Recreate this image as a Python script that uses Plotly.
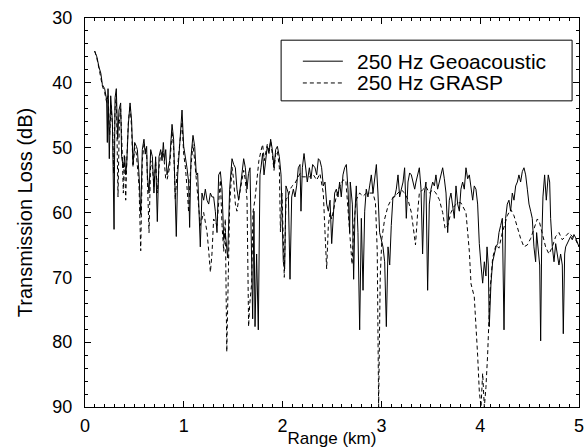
import plotly.graph_objects as go

# Range (km) and transmission loss (dB)
range_geo = [0.098,0.120,0.142,0.160,0.176,0.199,0.219,0.226,0.233,0.246,0.260,0.277,0.294,0.304,0.317,0.331,0.344,0.361,0.371,0.388,0.402,0.412,0.422,0.439,0.456,0.472,0.486,0.503,0.520,0.530,0.547,0.564,0.580,0.597,0.610,0.624,0.631,0.648,0.665,0.682,0.698,0.715,0.732,0.749,0.766,0.780,0.793,0.805,0.817,0.830,0.857,0.881,0.897,0.914,0.924,0.938,0.958,0.982,0.999,1.016,1.032,1.049,1.059,1.073,1.093,1.110,1.127,1.140,1.154,1.167,1.184,1.201,1.218,1.235,1.252,1.269,1.285,1.302,1.319,1.336,1.353,1.370,1.387,1.404,1.420,1.444,1.464,1.488,1.505,1.522,1.538,1.555,1.579,1.606,1.623,1.640,1.655,1.670,1.697,1.710,1.721,1.737,1.754,1.771,1.781,1.798,1.812,1.829,1.845,1.862,1.879,1.896,1.913,1.930,1.947,1.967,1.984,1.994,2.007,2.021,2.034,2.058,2.075,2.092,2.109,2.125,2.142,2.159,2.176,2.186,2.200,2.217,2.237,2.250,2.271,2.287,2.304,2.328,2.345,2.362,2.378,2.395,2.412,2.429,2.446,2.463,2.480,2.497,2.527,2.544,2.561,2.577,2.594,2.611,2.628,2.645,2.662,2.679,2.685,2.706,2.719,2.733,2.746,2.763,2.780,2.797,2.814,2.831,2.847,2.864,2.881,2.898,2.915,2.932,2.949,2.965,2.982,2.999,3.016,3.033,3.050,3.067,3.084,3.100,3.117,3.134,3.151,3.168,3.185,3.202,3.219,3.235,3.252,3.269,3.286,3.303,3.320,3.337,3.350,3.367,3.384,3.401,3.417,3.434,3.451,3.468,3.485,3.502,3.519,3.536,3.552,3.569,3.586,3.603,3.620,3.637,3.654,3.671,3.687,3.704,3.721,3.738,3.755,3.772,3.789,3.805,3.822,3.839,3.856,3.873,3.890,3.907,3.924,3.940,3.957,3.974,3.991,4.008,4.025,4.042,4.058,4.069,4.082,4.092,4.109,4.126,4.143,4.160,4.177,4.190,4.207,4.224,4.241,4.257,4.274,4.291,4.308,4.325,4.342,4.359,4.376,4.392,4.409,4.426,4.443,4.460,4.477,4.494,4.511,4.527,4.544,4.561,4.571,4.588,4.602,4.612,4.622,4.635,4.652,4.669,4.689,4.703,4.713,4.730,4.747,4.764,4.780,4.797,4.814,4.831,4.841,4.855,4.865,4.882,4.898,4.915,4.932,4.949,4.966,4.983,5.000]
tl_geo = [35.1,36.0,37.6,38.5,40.3,40.9,42.6,49.2,40.9,51.7,42.0,45.9,62.6,42.3,40.9,48.7,44.2,43.1,51.4,53.1,51.4,54.2,52.6,46.4,43.1,45.9,52.6,49.2,49.8,50.3,54.2,60.3,50.3,48.7,51.0,49.8,54.2,57.0,50.3,51.4,57.0,51.4,61.4,51.4,50.3,52.0,49.2,52.0,50.3,54.2,52.0,46.4,48.7,57.0,63.7,54.2,48.7,44.2,49.8,51.4,53.1,55.3,62.3,51.4,48.1,49.8,54.2,53.9,59.2,65.3,57.0,58.1,56.4,58.1,58.7,57.0,57.6,57.6,59.8,63.1,54.2,53.7,56.4,64.2,63.1,67.0,56.4,51.7,52.6,53.1,56.4,58.1,55.3,51.7,53.1,56.4,54.0,53.1,76.4,59.8,77.6,66.4,78.1,54.2,53.1,50.9,54.2,51.4,49.8,50.9,48.7,50.3,53.1,50.3,49.8,51.4,54.2,59.8,67.6,68.7,55.9,57.0,70.3,57.6,56.4,57.6,55.9,53.1,52.6,59.8,53.1,50.9,53.1,55.3,53.1,54.8,52.6,53.1,54.2,51.7,52.0,53.1,55.9,55.3,58.7,59.8,58.1,64.8,57.0,56.4,57.6,55.3,57.6,54.2,53.1,52.6,56.4,63.1,55.3,58.7,70.3,59.8,55.9,63.1,78.1,60.9,72.0,59.8,56.4,57.6,55.9,54.2,57.0,54.2,52.6,57.0,63.1,64.2,65.3,67.6,77.6,65.3,68.1,62.0,57.6,57.6,56.4,54.2,57.6,56.4,55.3,53.1,60.9,55.3,53.9,54.2,55.3,56.4,55.3,54.2,53.1,56.4,66.4,57.0,55.3,72.0,58.7,56.4,55.3,55.9,54.2,56.4,55.3,54.2,53.1,54.8,57.0,63.1,58.1,57.0,58.7,60.9,55.9,58.7,59.8,56.4,55.3,56.4,53.1,54.8,54.2,56.4,58.1,55.9,56.4,58.7,64.8,68.1,70.9,67.6,69.8,65.3,68.1,77.6,70.9,67.6,66.4,65.3,64.8,63.1,62.0,60.9,78.1,60.9,58.7,58.1,59.8,57.0,58.1,55.9,55.3,54.2,55.3,53.7,53.1,54.2,56.4,58.7,59.8,60.9,65.3,67.6,63.1,66.4,68.1,79.8,65.3,57.6,54.2,58.1,54.2,55.3,60.9,65.3,67.6,64.8,66.4,68.1,66.4,68.1,78.7,66.4,65.3,64.8,64.2,63.7,64.2,63.4,63.9,64.8,65.3]

range_grasp = [0.098,0.120,0.142,0.160,0.176,0.199,0.219,0.233,0.250,0.263,0.280,0.290,0.304,0.317,0.334,0.348,0.361,0.375,0.388,0.398,0.412,0.425,0.439,0.456,0.472,0.486,0.503,0.520,0.547,0.564,0.580,0.597,0.624,0.648,0.665,0.682,0.698,0.715,0.732,0.749,0.766,0.793,0.817,0.830,0.857,0.881,0.897,0.914,0.931,0.958,0.982,0.999,1.016,1.032,1.049,1.066,1.093,1.110,1.140,1.167,1.201,1.235,1.252,1.269,1.285,1.302,1.336,1.353,1.370,1.387,1.404,1.420,1.435,1.450,1.464,1.488,1.505,1.522,1.538,1.555,1.579,1.606,1.623,1.640,1.656,1.667,1.687,1.700,1.720,1.740,1.760,1.781,1.798,1.815,1.829,1.845,1.862,1.879,1.896,1.913,1.930,1.947,1.967,1.978,1.994,2.007,2.017,2.034,2.058,2.075,2.092,2.125,2.159,2.176,2.200,2.237,2.271,2.304,2.345,2.378,2.412,2.429,2.446,2.463,2.480,2.497,2.520,2.544,2.577,2.611,2.640,2.662,2.685,2.703,2.720,2.746,2.780,2.814,2.847,2.881,2.915,2.940,2.958,2.972,2.988,3.005,3.033,3.067,3.100,3.134,3.168,3.202,3.235,3.269,3.303,3.325,3.345,3.367,3.384,3.417,3.451,3.485,3.519,3.552,3.586,3.620,3.645,3.671,3.704,3.738,3.772,3.805,3.839,3.856,3.873,3.890,3.907,3.940,3.974,3.991,4.008,4.025,4.042,4.058,4.075,4.100,4.126,4.160,4.190,4.224,4.274,4.308,4.342,4.376,4.409,4.443,4.477,4.511,4.544,4.578,4.600,4.628,4.662,4.696,4.730,4.764,4.797,4.831,4.865,4.898,4.932,4.966,5.000]
tl_grasp = [35.1,36.2,37.8,39.0,40.5,41.5,43.0,42.0,48.0,43.5,47.0,54.0,44.0,42.0,57.6,46.0,44.0,50.0,57.0,51.0,58.1,51.0,46.0,43.5,47.0,53.0,50.0,51.0,55.9,65.9,52.0,49.5,51.0,63.1,52.0,53.0,56.0,52.0,57.0,53.0,51.0,50.5,54.8,55.0,53.0,47.5,50.0,58.0,54.0,49.5,46.0,51.0,53.0,56.0,60.0,54.0,49.5,52.0,58.0,62.0,60.0,63.0,65.9,69.2,66.4,61.0,62.0,58.0,55.0,62.0,66.0,61.0,81.5,70.0,59.0,53.0,55.0,58.7,59.8,58.0,56.0,53.5,55.0,58.0,77.6,74.2,70.9,60.0,58.0,55.0,52.0,50.5,49.5,52.0,50.5,49.5,50.5,49.0,51.0,53.5,51.0,50.5,53.0,63.0,57.0,64.0,70.0,58.0,57.5,56.5,56.0,55.5,54.5,54.0,54.5,54.5,54.5,54.0,55.0,54.0,57.0,63.0,68.7,62.0,60.0,61.0,59.0,57.5,56.0,55.0,55.0,60.0,64.0,68.0,62.0,58.0,57.0,57.5,57.0,57.0,57.0,58.5,66.0,90.0,70.0,64.0,61.0,59.0,58.0,57.5,57.0,56.5,57.0,58.0,60.0,63.0,65.0,60.0,57.0,56.5,56.0,57.0,56.5,57.0,58.0,60.0,62.5,62.0,60.0,59.0,58.5,58.5,59.5,60.0,63.0,66.0,71.0,73.0,82.0,87.6,90.0,84.8,90.0,87.0,82.0,72.0,67.0,65.0,65.5,63.1,60.5,59.5,60.5,62.5,64.0,65.3,65.0,64.0,62.6,61.0,61.5,63.1,65.3,66.4,65.3,63.7,63.1,64.2,63.7,63.1,63.7,64.2,65.3]

series_names = ["250 Hz Geoacoustic", "250 Hz GRASP"]
x_ticks = [0, 1, 2, 3, 4, 5]
y_ticks = [30, 40, 50, 60, 70, 80, 90]

FONT = "Liberation Sans, Arial, Helvetica, sans-serif"
DASH = "4px,3px"

fig = go.Figure()
fig.add_trace(go.Scatter(x=range_geo, y=tl_geo, mode="lines", name=series_names[0],
                         line=dict(color="black", width=1), showlegend=False))
fig.add_trace(go.Scatter(x=range_grasp, y=tl_grasp, mode="lines", name=series_names[1],
                         line=dict(color="black", width=1, dash=DASH), showlegend=False))

axis_common = dict(showline=True, linecolor="black", linewidth=1, mirror="allticks",
                   ticks="inside", tickcolor="black", ticklen=6, tickwidth=1,
                   showgrid=False, zeroline=False, ticklabeloverflow="allow",
                   tickfont=dict(family=FONT, size=18, color="black"))

fig.update_xaxes(range=[0, 5], tickvals=x_ticks, ticklabelstandoff=2,
                 minor=dict(dtick=0.1, ticks="inside", ticklen=3, tickcolor="black", showgrid=False),
                 title=dict(text="Range (km)", font=dict(family=FONT, size=17, color="black"), standoff=1),
                 **axis_common)
fig.update_yaxes(range=[90, 30], tickvals=y_ticks, ticklabelstandoff=8,
                 minor=dict(dtick=2, ticks="inside", ticklen=3, tickcolor="black", showgrid=False),
                 title=dict(text="Transmission Loss (dB)", font=dict(family=FONT, size=20, color="black"), standoff=14),
                 **axis_common)

# legend box drawn as a framed panel in the upper right of the plot
box_x0, box_x1, box_y0, box_y1 = 0.397, 0.986, 0.787, 0.943
row_y = [0.889, 0.833]
sample_x0, sample_x1, text_x = 0.441, 0.522, 0.546
shapes = [dict(type="rect", xref="paper", yref="paper", x0=box_x0, x1=box_x1, y0=box_y0, y1=box_y1,
               line=dict(color="black", width=1), fillcolor="white", layer="above")]
annotations = []
for name, ry, dash in zip(series_names, row_y, ["solid", DASH]):
    shapes.append(dict(type="line", xref="paper", yref="paper", x0=sample_x0, x1=sample_x1, y0=ry, y1=ry,
                       line=dict(color="black", width=1, dash=dash), layer="above"))
    annotations.append(dict(text=name, xref="paper", yref="paper", x=text_x, y=ry,
                            xanchor="left", yanchor="middle", showarrow=False,
                            font=dict(family=FONT, size=21, color="black")))

fig.update_layout(
    width=584, height=448,
    margin=dict(l=85, r=0, t=18, b=35),
    paper_bgcolor="white", plot_bgcolor="white",
    shapes=shapes, annotations=annotations,
)

fig.write_html("out.html", config={"displayModeBar": False},
               post_script="document.body.style.margin='0';document.body.style.padding='0';document.body.style.overflow='hidden';")
